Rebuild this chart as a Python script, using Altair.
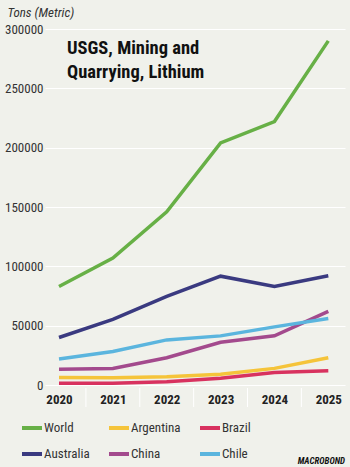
import altair as alt
import pandas as pd

years = [2020, 2021, 2022, 2023, 2024, 2025]
series_names = ["World", "Argentina", "Brazil", "Australia", "China", "Chile"]
colors = ["#67b046", "#f5c43a", "#d8325f", "#3a3a80", "#a34a8d", "#5bb5de"]
world = [83000, 107000, 146000, 204000, 222000, 290000]
argentina = [6300, 6200, 7000, 9000, 14000, 23000]
brazil = [1400, 1500, 2800, 5600, 10500, 12000]
australia = [40000, 55300, 74700, 91700, 83000, 92000]
china = [13300, 14000, 23000, 36000, 41500, 62000]
chile = [21900, 28300, 38000, 41400, 49000, 56000]
separators = [2020.5, 2021.5, 2022.5, 2023.5, 2024.5]

values = [world, argentina, brazil, australia, china, chile]
rows = []
for name, vals in zip(series_names, values):
    for y, v in zip(years, vals):
        rows.append({"Year": y, "Series": name, "Value": v})
df = pd.DataFrame(rows)

FONT = "Liberation Sans Narrow, Roboto Condensed, DejaVu Sans Condensed, Roboto, sans-serif"

x_scale = alt.Scale(domain=[2019.74, 2025.31], nice=False, zero=False)

lines = alt.Chart(df).mark_line(strokeWidth=3.5).encode(
    x=alt.X("Year:Q", scale=x_scale,
            axis=alt.Axis(values=years, format="d", title=None, grid=False, domain=False,
                          ticks=False, labelFont=FONT, labelFontSize=13, labelFontWeight="bold",
                          labelColor="#222222", labelPadding=8)),
    y=alt.Y("Value:Q", scale=alt.Scale(domain=[0, 300000], nice=False),
            axis=alt.Axis(values=[0, 50000, 100000, 150000, 200000, 250000, 300000],
                          format="d", title="Tons (Metric)", titleAngle=0, titleX=-38, titleY=-17,
                          titleAlign="left", titleBaseline="middle", titleFont=FONT,
                          titleFontSize=13, titleFontStyle="italic", titleFontWeight="normal",
                          titleColor="#333333", domain=False, ticks=False, labelFont=FONT,
                          labelFontSize=13, labelColor="#333333", labelPadding=2,
                          gridColor="#ffffff", gridWidth=1.2)),
    color=alt.Color("Series:N", sort=series_names,
                    scale=alt.Scale(domain=series_names, range=colors),
                    legend=alt.Legend(orient="none", legendX=-25, legendY=387, columns=3,
                                      direction="horizontal", title=None, symbolType="stroke",
                                      symbolSize=400, symbolStrokeWidth=4, labelOffset=0,
                                      columnPadding=11, rowPadding=6, labelFont=FONT,
                                      labelFontSize=13, labelColor="#333333", padding=0)),
    order=alt.Order("Year:Q"),
)

sep_df = pd.DataFrame({"Year": separators})
seps = alt.Chart(sep_df).mark_rule(color="#ffffff", strokeWidth=1).encode(
    x=alt.X("Year:Q", scale=x_scale),
    y=alt.value(359),
    y2=alt.value(378),
)

title_df = pd.DataFrame({"t": ["USGS, Mining and\nQuarrying, Lithium"]})
title = alt.Chart(title_df).mark_text(
    align="left", baseline="top", font=FONT, fontSize=18.5, fontWeight="bold",
    lineBreak="\n", lineHeight=24, color="#111111"
).encode(text="t:N", x=alt.value(22), y=alt.value(10))

logo_df = pd.DataFrame({"t": ["MACROBOND"]})
logo = alt.Chart(logo_df).mark_text(
    align="right", baseline="middle", font=FONT, fontSize=9, fontWeight="bold",
    fontStyle="italic", color="#111111"
).encode(text="t:N", x=alt.value(300), y=alt.value(432))

chart = alt.layer(lines, seps, title, logo).properties(
    width=300, height=356,
    background="#f0f1eb",
    padding={"left": 45, "top": 29, "right": 5, "bottom": 82},
    autosize=alt.AutoSizeParams(type="none"),
).configure_view(stroke=None)

chart.save("out.html", embed_options={"renderer": "svg", "actions": False})
